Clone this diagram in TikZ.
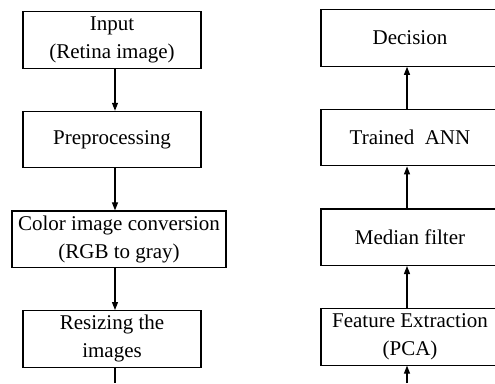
\documentclass[tikz,border=0pt]{standalone}
\usepackage{fontspec}
\setmainfont{Liberation Serif}
\usetikzlibrary{positioning,arrows.meta}

\begin{document}
\begin{tikzpicture}[
      x=1pt, y=1pt,
      >={Triangle[length=8pt,width=6pt]},
      every node/.style={font=\fontsize{21}{28}\selectfont},
      stage/.style={draw, line width=1.1pt, align=center, inner sep=0pt,
        minimum width=178pt, minimum height=56.5pt},
      wide/.style={minimum width=214pt},
      node distance=42pt
    ]
  \useasboundingbox (0,0) rectangle (495,-383);
  \coordinate (lspine) at (115,0);
  \coordinate (rspine) at (407,0);
  \coordinate (lout) at (115,-383);
  \coordinate (rin) at (407,-383);

  % left column, top to bottom
  \node[stage] (input) at (112,-40) {Input\\(Retina image)};
  \node[stage, below=of input] (prep) {Preprocessing};
  \node[stage, wide, below=of prep, xshift=7pt] (color) {Color image conversion\\(RGB to gray)};
  \node[stage, below=of color, xshift=-7pt] (resize) {Resizing the\\images};

  % right column, bottom to top
  \node[stage] (decision) at (410,-38) {Decision};
  \node[stage, below=of decision] (ann) {Trained\ \ ANN};
  \node[stage, below=of ann] (median) {Median filter};
  \node[stage, below=of median] (pca) {Feature Extraction\\(PCA)};

  \draw[line width=1.1pt,->] (input.south -| lspine) -- (prep.north -| lspine);
  \draw[line width=1.1pt,->] (prep.south -| lspine) -- (color.north -| lspine);
  \draw[line width=1.1pt,->] (color.south -| lspine) -- (resize.north -| lspine);
  \draw[line width=1.1pt] (resize.south -| lspine) -- (lout);

  \draw[line width=1.1pt,->] (rin) -- (pca.south -| rspine);
  \draw[line width=1.1pt,->] (pca.north -| rspine) -- (median.south -| rspine);
  \draw[line width=1.1pt,->] (median.north -| rspine) -- (ann.south -| rspine);
  \draw[line width=1.1pt,->] (ann.north -| rspine) -- (decision.south -| rspine);
\end{tikzpicture}
\end{document}
